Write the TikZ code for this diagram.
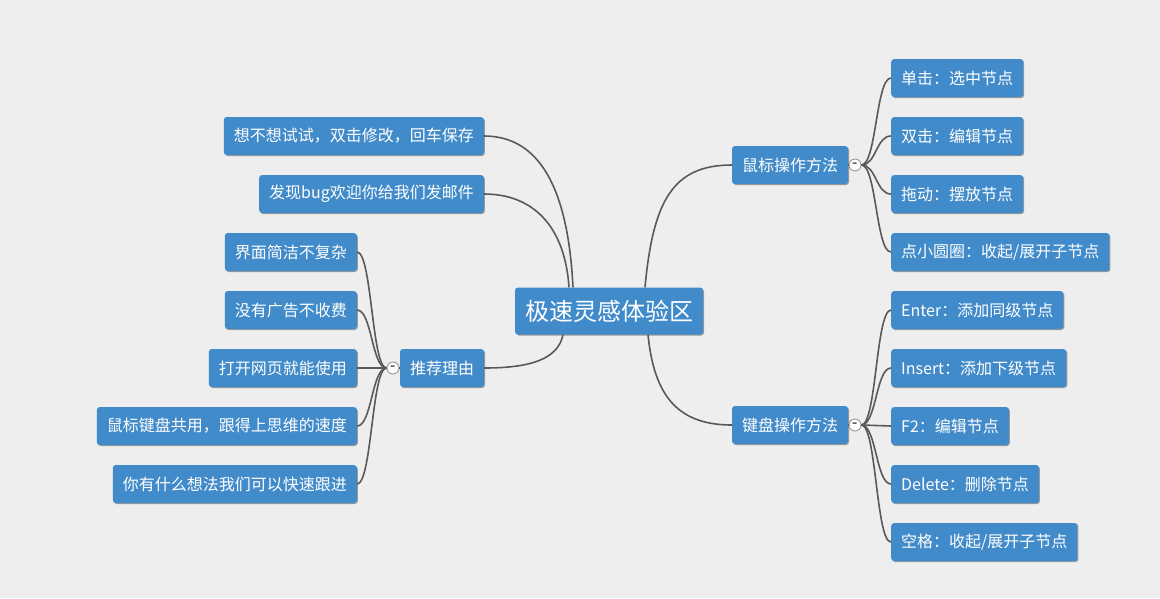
\documentclass[tikz,border=0pt]{standalone}
\usepackage{fontspec}
\newfontfamily\cjk{Noto Sans CJK SC}
\usepackage{tikz}
\usetikzlibrary{calc,shadows}
\usepackage{xcolor}
\definecolor{canvas}{HTML}{EEEEEE}
\definecolor{topicblue}{HTML}{428BCA}
\definecolor{linkgray}{HTML}{595959}
\definecolor{ringgray}{HTML}{8C8C8C}
\tikzset{
  topic/.style={fill=topicblue,text=white,rounded corners=3pt,
    minimum height=38pt,inner xsep=10pt,inner ysep=0pt,
    font=\cjk\fontsize{16}{19}\selectfont,
    general shadow={fill=black!40,shadow xshift=1pt,shadow yshift=-1pt}},
  roottopic/.style={topic,minimum height=47pt,font=\cjk\fontsize{24}{28}\selectfont},
  toggle/.style={circle,draw=ringgray,fill=white!96!canvas,line width=0.8pt,
    minimum size=12pt,inner sep=0pt,font=\bfseries\fontsize{13}{13}\selectfont,text=black!85},
  link/.style={draw=linkgray,line width=1.6pt}
}

\begin{document}
\begin{tikzpicture}[x=1pt,y=-1pt]
        \useasboundingbox[fill=canvas] (0,0) rectangle (1160,598);
        % centre and main branches
        \node[roottopic] (root) at (609,311) {极速灵感体验区};
        \node[topic] (mouse) at (790,165) {鼠标操作方法};
        \node[topic] (keys) at (790,425) {键盘操作方法};
        \node[topic] (reason) at (442,368) {推荐理由};
        \node[topic,anchor=east] (tryit) at (484,136) {想不想试试，双击修改，回车保存};
        \node[topic,anchor=east] (mail) at (484,194) {发现bug欢迎你给我们发邮件};
        % mouse branch
        \node[topic,anchor=west] (m1) at (891,78) {单击：选中节点};
        \node[topic,anchor=west] (m2) at (891,136) {双击：编辑节点};
        \node[topic,anchor=west] (m3) at (891,194) {拖动：摆放节点};
        \node[topic,anchor=west] (m4) at (891,252) {点小圆圈：收起/展开子节点};
        % keyboard branch
        \node[topic,anchor=west] (k1) at (891,310) {Enter：添加同级节点};
        \node[topic,anchor=west] (k2) at (891,368) {Insert：添加下级节点};
        \node[topic,anchor=west] (k3) at (891,426) {F2：编辑节点};
        \node[topic,anchor=west] (k4) at (891,484) {Delete：删除节点};
        \node[topic,anchor=west] (k5) at (891,542) {空格：收起/展开子节点};
        % reasons branch
        \node[topic,anchor=east] (r1) at (357,252) {界面简洁不复杂};
        \node[topic,anchor=east] (r2) at (357,310) {没有广告不收费};
        \node[topic,anchor=east] (r3) at (357,368) {打开网页就能使用};
        \node[topic,anchor=east] (r4) at (357,426) {鼠标键盘共用，跟得上思维的速度};
        \node[topic,anchor=east] (r5) at (357,484) {你有什么想法我们可以快速跟进};
        % root connectors
        \coordinate (outA) at ($(root.north)+(-36,0)$);
        \coordinate (outB) at ($(root.north)+(-40,0)$);
        \coordinate (outC) at ($(root.north)+(36,0)$);
        \coordinate (outD) at ($(root.south)+(39,0)$);
        \coordinate (outE) at ($(root.south)+(-46,0)$);
        \draw[link] (outA) .. controls +(-5,-100) and +(55,0) .. (tryit.east);
        \draw[link] (outB) .. controls +(-4,-60) and +(50,0) .. (mail.east);
        \draw[link] (outC) .. controls +(8,-85) and +(-60,0) .. (mouse.west);
        \draw[link] (outD) .. controls +(6,60) and +(-55,0) .. (keys.west);
        \draw[link] (outE) .. controls +(-5,25) and +(45,0) .. (reason.east);
        % toggles and sub connectors
        \node[toggle] (mtog) at (855,165) {-};
        \node[toggle] (ktog) at (855,425) {-};
        \node[toggle] (rtog) at (393,368) {-};
        \draw[link] (mouse.east) -- (mtog.west);
        \draw[link] (keys.east) -- (ktog.west);
        \draw[link] (reason.west) -- (rtog.east);
        \foreach \c in {m1,m2,m3,m4}
          \draw[link] (mtog.east) .. controls +(15,0) and +(-15,0) .. (\c.west);
        \foreach \c in {k1,k2,k3,k4,k5}
          \draw[link] (ktog.east) .. controls +(15,0) and +(-15,0) .. (\c.west);
        \foreach \c in {r1,r2,r3,r4,r5}
          \draw[link] (rtog.west) .. controls +(-15,0) and +(15,0) .. (\c.east);
      \end{tikzpicture}
\end{document}
